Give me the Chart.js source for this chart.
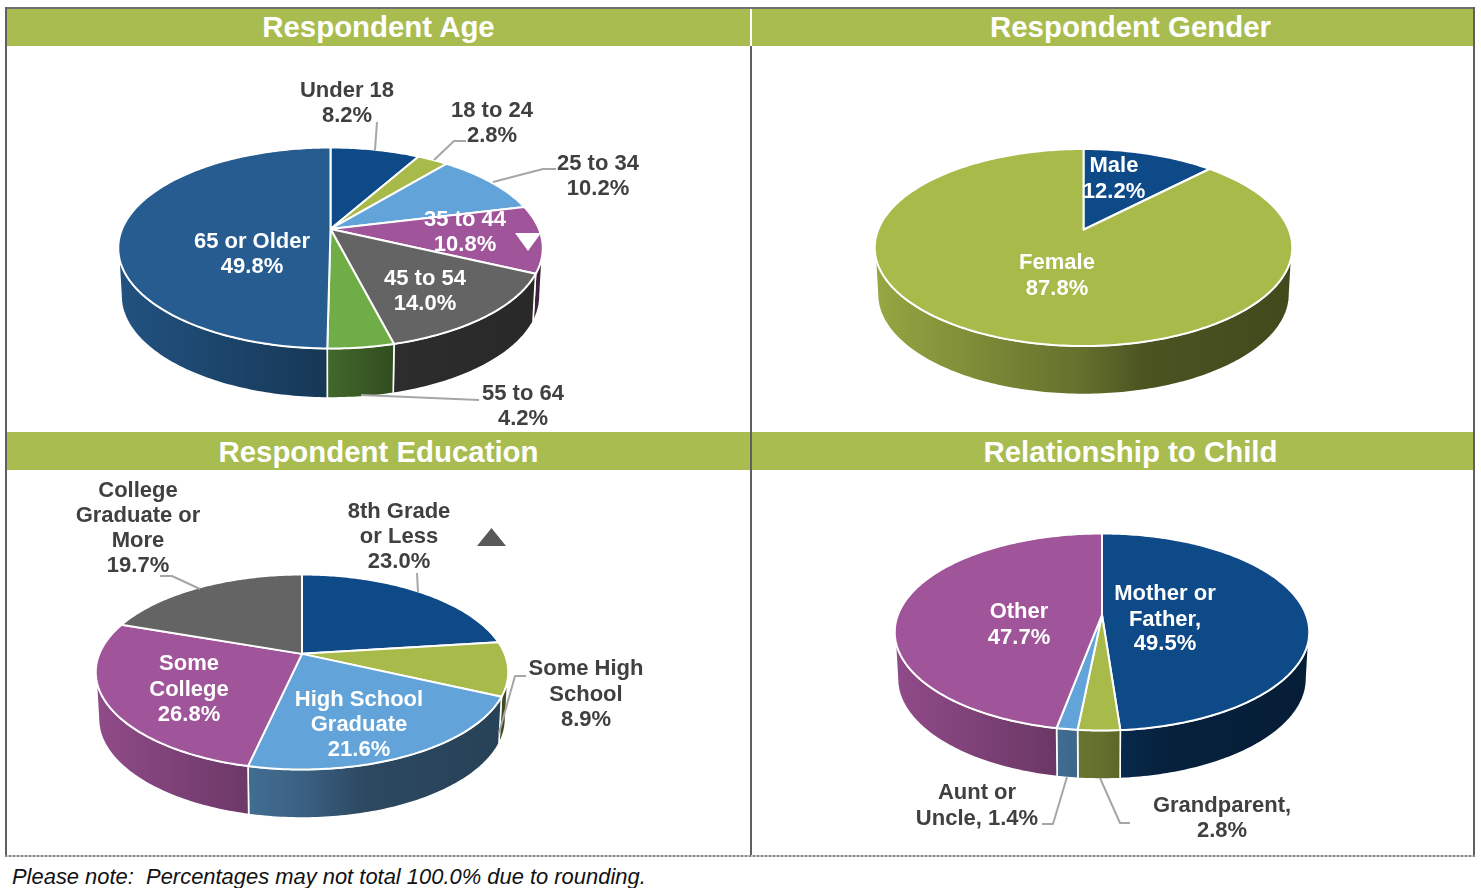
<!DOCTYPE html>
<html><head><meta charset="utf-8">
<style>
html,body{margin:0;padding:0;background:#fff;width:1481px;height:888px;overflow:hidden;font-family:"Liberation Sans",Arial,sans-serif}
.b{position:absolute}
.band{background:#A9BC50;color:#fff;font-weight:bold;font-size:29.4px;text-align:center;line-height:36px}
canvas{position:absolute}
</style>
<script src="https://cdn.jsdelivr.net/npm/chart.js@4/dist/chart.umd.min.js"></script>
</head><body>
<div class="b" style="left:5px;top:7px;width:1470px;height:2px;background:#707070"></div>
<div class="b" style="left:5px;top:7px;width:2px;height:850px;background:#606060"></div>
<div class="b" style="left:1473px;top:7px;width:2px;height:850px;background:#606060"></div>
<div class="b" style="left:750px;top:46px;width:2px;height:810px;background:#606060"></div>
<div class="b" style="left:5px;top:855px;width:1470px;height:2px;background:repeating-linear-gradient(90deg,#8a8a8a 0 2px,#c4c4c4 2px 4px)"></div>
<div class="b band" style="left:7px;top:9px;width:743px;height:37px">Respondent Age</div>
<div class="b band" style="left:752px;top:9px;width:685px;padding-left:36px;height:37px">Respondent Gender</div>
<div class="b band" style="left:7px;top:432px;width:743px;height:38px;line-height:40px">Respondent Education</div>
<div class="b band" style="left:752px;top:432px;width:685px;padding-left:36px;height:38px;line-height:40px">Relationship to Child</div>
<div class="b" style="left:12px;top:863px;font-style:italic;font-size:21.93px;line-height:27px;color:#111;white-space:pre">Please note:  Percentages may not total 100.0% due to rounding.</div>
<canvas id="c1"></canvas><canvas id="c2"></canvas><canvas id="c3"></canvas><canvas id="c4"></canvas>
<script>
// ---- data ----
const ageCategories = ["Under 18","18 to 24","25 to 34","35 to 44","45 to 54","55 to 64","65 or Older"];
const ageValues = [8.2,2.8,10.2,10.8,14.0,4.2,49.8];
const ageColors = ["#0F4A88","#A7BA4A","#62A3D9","#A05499","#646464","#6FAD47","#265C8F"];
const genderCategories = ["Male","Female"];
const genderValues = [12.2,87.8];
const genderColors = ["#0F4A88","#A7BA4A"];
const educationCategories = ["8th Grade or Less","Some High School","High School Graduate","Some College","College Graduate or More"];
const educationValues = [23.0,8.9,21.6,26.8,19.7];
const educationColors = ["#0F4A88","#A7BA4A","#62A3D9","#A05499","#646464"];
const relationCategories = ["Mother or Father","Grandparent","Aunt or Uncle","Other"];
const relationValues = [49.5,2.8,1.4,47.7];
const relationColors = ["#0F4A88","#A7BA4A","#62A3D9","#A05499"];

const DARK="#404040", WHITE="#ffffff", LEAD="#A6A6A6";
function shade(hex,f){const n=parseInt(hex.slice(1),16);return `rgb(${(n>>16&255)*f|0},${(n>>8&255)*f|0},${(n&255)*f|0})`;}
const wallStops=[[0,.9],[.5,.6],[.65,.45],[1,.4]];

const pie3d={id:'pie3d',
  beforeDatasetDraw(chart,args,o){
    const ctx=chart.ctx, arcs=chart.getDatasetMeta(0).data, colors=chart.data.datasets[0].backgroundColor;
    const R=arcs[0].outerRadius, cx=arcs[0].x, cy=arcs[0].y, ry=o.ry, b=o.beta, s=Math.sqrt(1-b*b);
    const pt=(a,rx,ryy,y0)=>{const X=Math.cos(a),Y=Math.sin(a),w=1+b*Y;return [cx+rx*X*s/w,y0+ryy*(Y+b)/w];};
    const rxB=R*.987, ryB=ry*1.02, cyB=cy+ry+o.depth-ryB;
    const f0=Math.asin(-b), f1=Math.PI-f0;
    // side walls
    arcs.forEach((el,i)=>{
      const a0=Math.max(el.startAngle,f0), a1=Math.min(el.endAngle,f1);
      if(a0>=a1) return;
      const g=ctx.createLinearGradient(cx-R,0,cx+R,0);
      wallStops.forEach(t=>g.addColorStop(t[0],shade(colors[i],t[1])));
      const n=Math.max(2,Math.ceil((a1-a0)*60));
      ctx.beginPath();
      for(let k=0;k<=n;k++){const p=pt(a0+(a1-a0)*k/n,R,ry,cy);k?ctx.lineTo(p[0],p[1]):ctx.moveTo(p[0],p[1]);}
      for(let k=n;k>=0;k--){const p=pt(a0+(a1-a0)*k/n,rxB,ryB,cyB);ctx.lineTo(p[0],p[1]);}
      ctx.closePath();ctx.fillStyle=g;ctx.fill();
      ctx.strokeStyle="#fff";ctx.lineWidth=1.6;ctx.stroke();
    });
    // top faces
    arcs.forEach((el,i)=>{
      const a0=el.startAngle,a1=el.endAngle,n=Math.max(2,Math.ceil((a1-a0)*60));
      ctx.beginPath();ctx.moveTo(cx,cy+ry*b);
      for(let k=0;k<=n;k++){const p=pt(a0+(a1-a0)*k/n,R,ry,cy);ctx.lineTo(p[0],p[1]);}
      ctx.closePath();ctx.fillStyle=colors[i];ctx.fill();
      ctx.strokeStyle="#fff";ctx.lineWidth=2;ctx.lineJoin="round";ctx.stroke();
    });
    return false;
  },
  afterDraw(chart,args,o){
    const ctx=chart.ctx,ox=o.left,oy=o.top;
    ctx.save();ctx.translate(-ox,-oy);
    ctx.strokeStyle=LEAD;ctx.lineWidth=2;
    (o.leaders||[]).forEach(l=>{ctx.beginPath();l.forEach((p,i)=>i?ctx.lineTo(p[0],p[1]):ctx.moveTo(p[0],p[1]));ctx.stroke();});
    (o.tris||[]).forEach(t=>{ctx.beginPath();t.pts.forEach((p,i)=>i?ctx.lineTo(p[0],p[1]):ctx.moveTo(p[0],p[1]));ctx.closePath();ctx.fillStyle=t.color;ctx.fill();});
    ctx.font='bold 22px "Liberation Sans",Arial,sans-serif';ctx.textAlign='center';ctx.textBaseline='middle';
    (o.labels||[]).forEach(l=>{ctx.fillStyle=l.c;l.lines.forEach((t,i)=>ctx.fillText(t,l.x,l.ys[i]+2));});
    ctx.restore();
  }
};
Chart.register(pie3d);

function make(id,cats,vals,cols,g){
  const R=g.R, top=Math.round(g.cy-R), h=Math.ceil(2*R), cv=document.getElementById(id);
  cv.width=g.w;cv.height=h;cv.style.left=g.left+'px';cv.style.top=top+'px';
  cv.style.width=g.w+'px';cv.style.height=h+'px';
  new Chart(cv,{type:'pie',data:{labels:cats,datasets:[{data:vals,backgroundColor:cols,borderColor:'#fff',borderWidth:1.5,hoverOffset:0}]},
    options:{responsive:false,animation:false,events:[],rotation:0,
      layout:{padding:{left:g.cx-R-g.left,right:g.left+g.w-g.cx-R,top:0,bottom:0}},
      plugins:{legend:{display:false},tooltip:{enabled:false},title:{display:false},
        pie3d:{ry:g.ry,beta:g.beta,depth:g.depth,left:g.left,top:top,labels:g.labels,leaders:g.leaders,tris:g.tris}}}});
}
const pct=v=>v.toFixed(1)+'%';

make('c1',ageCategories,ageValues,ageColors,{left:7,w:743,cx:330.5,cy:248,R:213,ry:100.5,beta:-.19,depth:49.5,
  labels:[
   {x:347,ys:[89,114],lines:[ageCategories[0],pct(ageValues[0])],c:DARK},
   {x:492,ys:[109,134],lines:[ageCategories[1],pct(ageValues[1])],c:DARK},
   {x:598,ys:[162,187],lines:[ageCategories[2],pct(ageValues[2])],c:DARK},
   {x:465,ys:[218,243],lines:[ageCategories[3],pct(ageValues[3])],c:WHITE},
   {x:425,ys:[277,302],lines:[ageCategories[4],pct(ageValues[4])],c:WHITE},
   {x:523,ys:[392,417],lines:[ageCategories[5],pct(ageValues[5])],c:DARK},
   {x:252,ys:[240,265],lines:[ageCategories[6],pct(ageValues[6])],c:WHITE}],
  leaders:[[[377,122],[375,150]],[[466,141],[454,141],[434,160]],[[556,169],[543,169],[493,182]],[[479,400],[361,395]]],
  tris:[{color:'#fff',pts:[[515,233],[541,233],[528,251]]}]});

make('c2',genderCategories,genderValues,genderColors,{left:752,w:721,cx:1083.5,cy:247,R:209.5,ry:98.5,beta:-.18,depth:48.5,
  labels:[
   {x:1114,ys:[164,190],lines:[genderCategories[0],pct(genderValues[0])],c:WHITE},
   {x:1057,ys:[261,287],lines:[genderCategories[1],pct(genderValues[1])],c:WHITE}]});

make('c3',educationCategories,educationValues,educationColors,{left:7,w:743,cx:302,cy:672,R:207,ry:97.5,beta:-.186,depth:48.5,
  labels:[
   {x:399,ys:[510,535,560],lines:["8th Grade","or Less",pct(educationValues[0])],c:DARK},
   {x:586,ys:[667,693,718],lines:["Some High","School",pct(educationValues[1])],c:DARK},
   {x:359,ys:[698,723,748],lines:["High School","Graduate",pct(educationValues[2])],c:WHITE},
   {x:189,ys:[662,688,713],lines:["Some","College",pct(educationValues[3])],c:WHITE},
   {x:138,ys:[489,514,539,564],lines:["College","Graduate or","More",pct(educationValues[4])],c:DARK}],
  leaders:[[[160,576],[172,576],[200,589]],[[417,573],[418,592]],[[526,676],[515,676],[499,733]]],
  tris:[{color:'#595959',pts:[[477,546],[506,546],[491.5,528]]}]});

make('c4',relationCategories,relationValues,relationColors,{left:752,w:721,cx:1102,cy:632,R:208,ry:98.5,beta:-.173,depth:48.5,
  labels:[
   {x:1165,ys:[592,618,642],lines:["Mother or","Father,",pct(relationValues[0])],c:WHITE},
   {x:1222,ys:[804,829],lines:["Grandparent,",pct(relationValues[1])],c:DARK},
   {x:977,ys:[791,817],lines:["Aunt or","Uncle, "+pct(relationValues[2])],c:DARK},
   {x:1019,ys:[610,636],lines:[relationCategories[3],pct(relationValues[3])],c:WHITE}],
  leaders:[[[1042,824],[1053,824],[1067,777]],[[1130,823],[1120,823],[1100,778]]]});
</script>
</body></html>
